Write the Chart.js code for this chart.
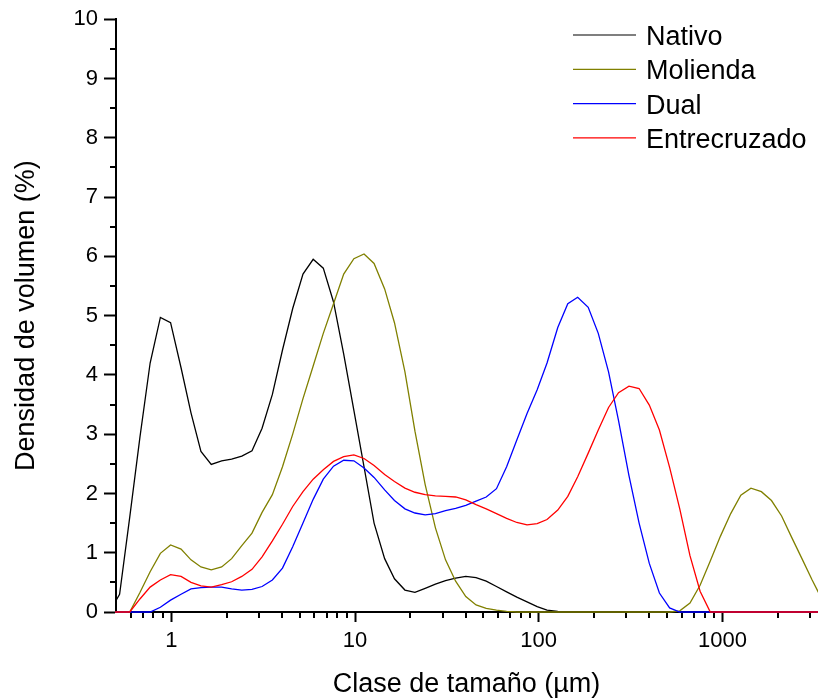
<!DOCTYPE html>
<html>
<head>
<meta charset="utf-8">
<script src="https://cdn.jsdelivr.net/npm/chart.js@4/dist/chart.umd.min.js"></script>
<style>
  body { margin: 0; background: #fff; }
  #wrap { width: 818px; height: 700px; }
</style>
</head>
<body>
<div id="wrap"><canvas id="chartPSD" width="818" height="700"></canvas></div>
<script>
// Clases de tamaño (um)
const sizes = [0.46, 0.523, 0.594, 0.675, 0.767, 0.872, 0.991, 1.13, 1.28, 1.45, 1.65, 1.88, 2.13, 2.42, 2.75,
    3.12, 3.55, 4.03, 4.58, 5.21, 5.92, 6.72, 7.64, 8.68, 9.86, 11.2, 12.7, 14.5, 16.4, 18.7, 21.2, 24.1, 27.4,
    31.1, 35.3, 40.1, 45.6, 51.8, 58.9, 66.9, 76.0, 86.4, 98.1, 111, 127, 144, 163, 186, 211, 240, 272, 310,
    352, 400, 454, 516, 586, 666, 756, 859, 976, 1110, 1260, 1430, 1630, 1850, 2100, 2390, 2710, 3080, 3500];

// Densidad de volumen (%)
const nativo = [0, 0.3, 1.6, 2.95, 4.2, 4.97, 4.88, 4.12, 3.36, 2.71, 2.49, 2.55, 2.58, 2.63, 2.72,
    3.1, 3.67, 4.42, 5.12, 5.7, 5.95, 5.8, 5.23, 4.35, 3.4, 2.45, 1.5, 0.9, 0.56, 0.37, 0.33, 0.4, 0.47,
    0.53, 0.57, 0.6, 0.58, 0.52, 0.43, 0.34, 0.25, 0.17, 0.09, 0.03, 0.01, 0, 0, 0, 0, 0, 0, 0,
    0, 0, 0, 0, 0, 0, 0, 0, 0, 0, 0, 0, 0, 0, 0, 0, 0, 0, 0];
const molienda = [0, 0, 0, 0.33, 0.68, 0.99, 1.13, 1.06, 0.88, 0.76, 0.71, 0.76, 0.9, 1.12, 1.33,
    1.68, 1.98, 2.45, 3.0, 3.6, 4.15, 4.7, 5.2, 5.7, 5.96, 6.04, 5.88, 5.45, 4.88, 4.05, 3.05, 2.15, 1.42,
    0.88, 0.52, 0.26, 0.12, 0.06, 0.03, 0.01, 0, 0, 0, 0, 0, 0, 0, 0, 0, 0, 0, 0,
    0, 0, 0, 0, 0.02, 0.15, 0.45, 0.86, 1.28, 1.66, 1.97, 2.09, 2.03, 1.88, 1.62, 1.25, 0.9, 0.54, 0.2];
const dual = [0, 0, 0, 0, 0, 0.08, 0.2, 0.3, 0.39, 0.41, 0.42, 0.42, 0.39, 0.37, 0.38,
    0.43, 0.54, 0.74, 1.1, 1.5, 1.9, 2.24, 2.46, 2.56, 2.55, 2.43, 2.27, 2.06, 1.88, 1.74, 1.67, 1.64, 1.66,
    1.71, 1.75, 1.8, 1.87, 1.94, 2.08, 2.45, 2.9, 3.35, 3.75, 4.2, 4.8, 5.2, 5.31, 5.14, 4.7, 4.05, 3.23, 2.3,
    1.5, 0.82, 0.32, 0.07, 0, 0, 0, 0, 0, 0, 0, 0, 0, 0, 0, 0, 0, 0, 0];
const entrecruzado = [0, 0, 0, 0.22, 0.42, 0.54, 0.63, 0.6, 0.5, 0.44, 0.42, 0.46, 0.51, 0.6, 0.72,
    0.93, 1.2, 1.48, 1.78, 2.03, 2.24, 2.4, 2.54, 2.62, 2.65, 2.59, 2.47, 2.32, 2.2, 2.09, 2.02, 1.98, 1.96,
    1.95, 1.94, 1.89, 1.81, 1.74, 1.66, 1.58, 1.51, 1.47, 1.49, 1.56, 1.72, 1.95, 2.28, 2.68, 3.07, 3.45, 3.7, 3.81,
    3.77, 3.49, 3.07, 2.44, 1.74, 0.95, 0.35, 0, 0, 0, 0, 0, 0, 0, 0, 0, 0, 0, 0];

// Marcas de los ejes
const xMajorTicks = [1, 10, 100, 1000];
const xMinorTicks = [0.6, 0.7, 0.8, 0.9, 2, 3, 4, 5, 6, 7, 8, 9, 20, 30, 40, 50, 60, 70, 80, 90,
    200, 300, 400, 500, 600, 700, 800, 900, 2000, 3000];
const yMinorTicks = [0.5, 1.5, 2.5, 3.5, 4.5, 5.5, 6.5, 7.5, 8.5, 9.5];

const FONT = '"Liberation Sans", Arial, sans-serif';

const series = [
    { label: 'Nativo', data: nativo, color: '#000000' },
    { label: 'Molienda', data: molienda, color: '#808000' },
    { label: 'Dual', data: dual, color: '#0000ff' },
    { label: 'Entrecruzado', data: entrecruzado, color: '#ff0000' }
];

// Marcas menores y leyenda dentro del area del grafico
const extrasPlugin = {
    id: 'extras',
    beforeDatasetsDraw(chart) {
        const { ctx, chartArea, scales } = chart;
        ctx.save();
        ctx.strokeStyle = '#000';
        ctx.lineWidth = 2;
        ctx.beginPath();
        xMinorTicks.forEach(v => {
            const px = Math.round(scales.x.getPixelForValue(v));
            ctx.moveTo(px, chartArea.bottom);
            ctx.lineTo(px, chartArea.bottom + 6);
        });
        yMinorTicks.forEach(v => {
            const py = Math.round(scales.y.getPixelForValue(v));
            ctx.moveTo(chartArea.left - 6, py);
            ctx.lineTo(chartArea.left, py);
        });
        ctx.stroke();
        ctx.restore();
    },
    afterDraw(chart) {
        const { ctx } = chart;
        ctx.save();
        // Leyenda
        ctx.font = '27px ' + FONT;
        ctx.textBaseline = 'alphabetic';
        ctx.textAlign = 'left';
        series.forEach((s, i) => {
            const y = 35 + i * 34.3;
            ctx.strokeStyle = s.color;
            ctx.lineWidth = 1.2;
            ctx.beginPath();
            ctx.moveTo(573, y);
            ctx.lineTo(636, y);
            ctx.stroke();
            ctx.fillStyle = '#000';
            ctx.fillText(s.label, 646, y + 10);
        });
        ctx.restore();
    }
};

// Se dibuja en orden inverso para que Entrecruzado quede encima
const datasets = series.slice().reverse().map(s => ({
    label: s.label,
    data: sizes.map((x, i) => ({ x: x, y: s.data[i] })),
    borderColor: s.color,
    backgroundColor: s.color,
    borderWidth: 1.3,
    pointRadius: 0,
    tension: 0,
    fill: false,
    clip: { left: 1, top: 5, right: 5, bottom: 5 }
}));

const ctx = document.getElementById('chartPSD').getContext('2d');
new Chart(ctx, {
    type: 'line',
    data: { datasets: datasets },
    options: {
        responsive: false,
        animation: false,
        layout: { padding: { top: 19, right: 1, left: 0, bottom: 0 } },
        plugins: {
            legend: { display: false },
            tooltip: { enabled: false }
        },
        scales: {
            x: {
                type: 'logarithmic',
                min: 0.5,
                max: 3273,
                afterBuildTicks: scale => {
                    scale.ticks = xMajorTicks.map(v => ({ value: v }));
                },
                afterFit: scale => { scale.height = 88; },
                grid: {
                    drawOnChartArea: false,
                    tickLength: 10,
                    tickWidth: 2,
                    tickColor: '#000'
                },
                border: { color: '#000', width: 2 },
                ticks: {
                    color: '#000',
                    padding: 6,
                    maxRotation: 0,
                    autoSkip: false,
                    font: { family: FONT, size: 22 },
                    callback: v => String(v)
                },
                title: {
                    display: true,
                    text: 'Clase de tamaño (µm)',
                    color: '#000',
                    font: { family: FONT, size: 27, lineHeight: 1 },
                    padding: { top: 0, bottom: 2 }
                }
            },
            y: {
                min: 0,
                max: 10,
                afterFit: scale => { scale.width = 116; },
                grid: {
                    drawOnChartArea: false,
                    tickLength: 12,
                    tickWidth: 2,
                    tickColor: '#000'
                },
                border: { color: '#000', width: 2 },
                ticks: {
                    stepSize: 1,
                    color: '#000',
                    padding: 6,
                    font: { family: FONT, size: 22 }
                },
                title: {
                    display: true,
                    text: 'Densidad de volumen (%)',
                    color: '#000',
                    font: { family: FONT, size: 27, lineHeight: 1 },
                    padding: { top: 13, bottom: 0 }
                }
            }
        }
    },
    plugins: [extrasPlugin]
});
</script>
</body>
</html>
